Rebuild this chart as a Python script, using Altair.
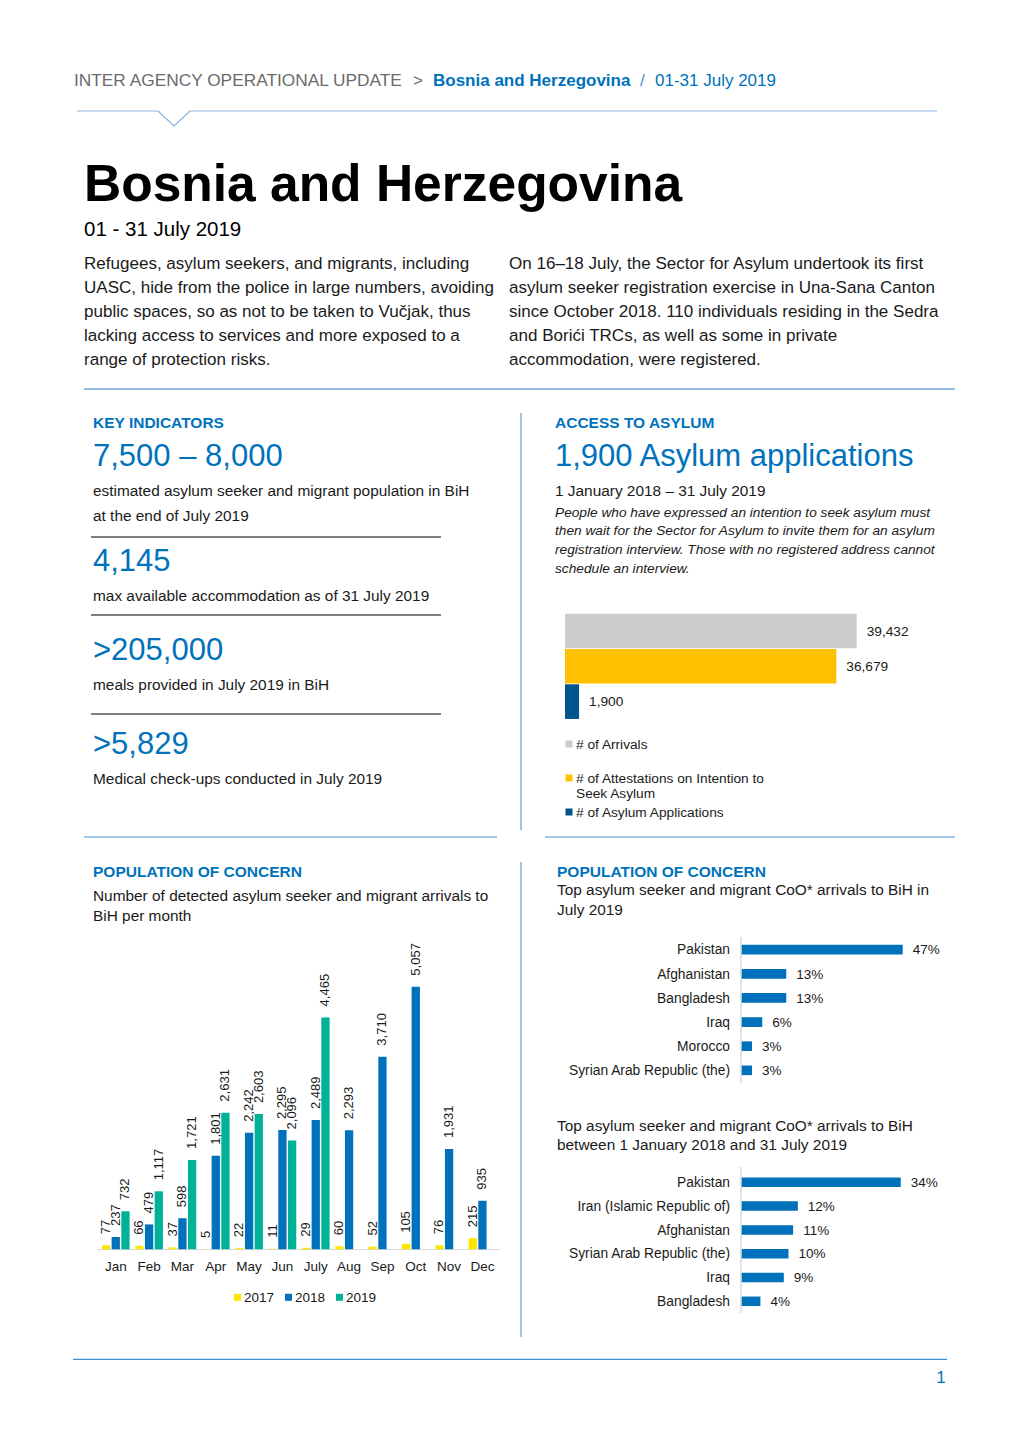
import altair as alt
import pandas as pd

# ---------------- data ----------------
months = ["Jan", "Feb", "Mar", "Apr", "May", "Jun", "July", "Aug", "Sep", "Oct", "Nov", "Dec"]
years = ["2017", "2018", "2019"]
arrivals_2017 = [77, 66, 37, 5, 22, 11, 29, 60, 52, 105, 76, 215]
arrivals_2018 = [237, 479, 598, 1801, 2242, 2295, 2489, 2293, 3710, 5057, 1931, 935]
arrivals_2019 = [732, 1117, 1721, 2631, 2603, 2096, 4465]

asylum_categories = ["# of Arrivals", "# of Attestations on Intention to Seek Asylum", "# of Asylum Applications"]
asylum_values = [39432, 36679, 1900]

coo_july_countries = ["Pakistan", "Afghanistan", "Bangladesh", "Iraq", "Morocco", "Syrian Arab Republic (the)"]
coo_july_share = [47, 13, 13, 6, 3, 3]
coo_total_countries = ["Pakistan", "Iran (Islamic Republic of)", "Afghanistan", "Syrian Arab Republic (the)", "Iraq", "Bangladesh"]
coo_total_share = [34, 12, 11, 10, 9, 4]

# ---------------- styles ----------------
FONT = "Liberation Sans"
BLUE = "#0072BC"
DARK = "#1a1a1a"
GREY_TXT = "#6b6b6b"
YEL = "#FFE600"
GREEN = "#00B398"
ASY_COLORS = ["#CCCCCC", "#FFC000", "#00558C"]
LINE_LIGHT = "#9cc5e8"
LINE_BLUE = "#4a90d0"

ONE = pd.DataFrame({"k": [0]})
L = []
M = 8  # page margin
DY = 0.7  # small vertical nudge for text


def text(x, y, s, size, color=DARK, weight="normal", style="normal", align="left", baseline="middle", font=FONT, dy=DY):
    L.append(
        alt.Chart(ONE)
        .mark_text(align=align, baseline=baseline, fontSize=size, color=color,
                   fontWeight=weight, fontStyle=style, font=font)
        .encode(x=alt.value(x - M), y=alt.value(y - M + dy), text=alt.value(s))
    )


def rule(x1, y1, x2, y2, color, w=1.0):
    L.append(
        alt.Chart(ONE)
        .mark_rule(color=color, strokeWidth=w)
        .encode(x=alt.value(x1 - M), y=alt.value(y1 - M), x2=alt.value(x2 - M), y2=alt.value(y2 - M))
    )


def square(x, y, color, size=49):
    L.append(
        alt.Chart(ONE)
        .mark_square(color=color, size=size, opacity=1)
        .encode(x=alt.value(x - M), y=alt.value(y - M))
    )


HEAD = 15.5   # section headings
SMALL = 15.4  # small body text

# ---------------- header ----------------
text(74, 80, "INTER AGENCY OPERATIONAL UPDATE", 17.3, GREY_TXT)
text(413, 80, ">", 17, GREY_TXT)
text(433, 80, "Bosnia and Herzegovina", 17, BLUE, weight="bold")
text(640, 80, "/", 17, LINE_BLUE)
text(655, 80, "01-31 July 2019", 17, BLUE)
for seg in [(77, 111, 158, 111), (158, 111, 174, 126), (174, 126, 190, 111), (190, 111, 937, 111)]:
    rule(*seg, color="#8db8e2", w=1.2)

text(84, 201, "Bosnia and Herzegovina", 51.5, "#000", weight="bold", baseline="alphabetic", dy=0)
text(84, 229, "01 - 31 July 2019", 20.5, "#000")

left_par = [
    "Refugees, asylum seekers, and migrants, including",
    "UASC, hide from the police in large numbers, avoiding",
    "public spaces, so as not to be taken to Vučjak, thus",
    "lacking access to services and more exposed to a",
    "range of protection risks.",
]
right_par = [
    "On 16–18 July, the Sector for Asylum undertook its first",
    "asylum seeker registration exercise in Una-Sana Canton",
    "since October 2018. 110 individuals residing in the Sedra",
    "and Borići TRCs, as well as some in private",
    "accommodation, were registered.",
]
for i, s in enumerate(left_par):
    text(84, 263 + 24 * i, s, 17.05, DARK)
for i, s in enumerate(right_par):
    text(509, 263 + 24 * i, s, 17.05, DARK)

rule(84, 389, 955, 389, "#2a78c0", 1.2)

# ---------------- key indicators ----------------
text(93, 422, "KEY INDICATORS", HEAD, BLUE, weight="bold")
text(93, 456, "7,500 – 8,000", 31, BLUE)
text(93, 490, "estimated asylum seeker and migrant population in BiH", SMALL, DARK)
text(93, 515, "at the end of July 2019", SMALL, DARK)
rule(91, 537, 441, 537, "#000", 1)
text(93, 561, "4,145", 31, BLUE)
text(93, 595, "max available accommodation as of 31 July 2019", SMALL, DARK)
rule(91, 615, 441, 615, "#000", 1)
text(93, 650, ">205,000", 31, BLUE)
text(93, 684, "meals provided in July 2019 in BiH", SMALL, DARK)
rule(91, 714, 441, 714, "#000", 1)
text(93, 744, ">5,829", 31, BLUE)
text(93, 778, "Medical check-ups conducted in July 2019", SMALL, DARK)

rule(521, 413, 521, 830, LINE_LIGHT, 2)

# ---------------- access to asylum ----------------
text(555, 422, "ACCESS TO ASYLUM", HEAD, BLUE, weight="bold")
text(555, 456, "1,900 Asylum applications", 31, BLUE)
text(555, 490, "1 January 2018 – 31 July 2019", SMALL, DARK)
ital = [
    "People who have expressed an intention to seek asylum must",
    "then wait for the Sector for Asylum to invite them for an asylum",
    "registration interview. Those with no registered address cannot",
    "schedule an interview.",
]
for i, s in enumerate(ital):
    text(555, 512 + 18.7 * i, s, 13.7, DARK, style="italic")

square(569, 744, ASY_COLORS[0])
text(576, 744, "# of Arrivals", 13.7, DARK)
square(569, 778, ASY_COLORS[1])
text(576, 778, "# of Attestations on Intention to", 13.7, DARK)
text(576, 793.5, "Seek Asylum", 13.7, DARK)
square(569, 812, ASY_COLORS[2])
text(576, 812, "# of Asylum Applications", 13.7, DARK)

rule(84, 837, 497, 837, LINE_BLUE, 1.2)
rule(545, 837, 955, 837, LINE_BLUE, 1.2)

# ---------------- population of concern (left) ----------------
text(93, 871, "POPULATION OF CONCERN", HEAD, BLUE, weight="bold")
text(93, 895, "Number of detected asylum seeker and migrant arrivals to", SMALL, DARK)
text(93, 915, "BiH per month", SMALL, DARK)
rule(97, 1249.5, 500, 1249.5, "#d9d9d9", 1.2)

square(237.5, 1297.3, YEL)
text(244, 1297.3, "2017", 13.5, DARK)
square(288.5, 1297.3, BLUE)
text(295, 1297.3, "2018", 13.5, DARK)
square(339.5, 1297.3, GREEN)
text(346, 1297.3, "2019", 13.5, DARK)

rows = []
for yr, vals in zip(years, [arrivals_2017, arrivals_2018, arrivals_2019]):
    for m, v in zip(months, vals):
        rows.append({"month": m, "year": yr, "value": v})
monthly = pd.DataFrame(rows)

x_m = alt.X("month:N", axis=None,
            scale=alt.Scale(domain=months, range=[99.1 - M, 499.1 - M], paddingInner=0.17, paddingOuter=0.085))
xo_m = alt.XOffset("year:N", scale=alt.Scale(domain=years, paddingInner=0.145, paddingOuter=0))
y_m = alt.Y("value:Q", axis=None, scale=alt.Scale(domain=[0, 6000], range=[1249.3 - M, 937.7 - M]))
c_m = alt.Color("year:N", legend=None, scale=alt.Scale(domain=years, range=[YEL, BLUE, GREEN]))

m_bars = alt.Chart(monthly).mark_bar().encode(x=x_m, xOffset=xo_m, y=y_m, color=c_m)
m_labels = (
    alt.Chart(monthly)
    .mark_text(angle=270, align="left", baseline="middle", dx=11, fontSize=13, font=FONT, color=DARK)
    .encode(x=x_m, xOffset=xo_m, y=y_m, text=alt.Text("value:Q", format=","))
)
m_months = (
    alt.Chart(pd.DataFrame({"month": months}))
    .mark_text(baseline="middle", fontSize=13.5, font=FONT, color=DARK)
    .encode(x=x_m, y=alt.value(1266.7 - M + DY), text="month:N")
)
monthly_chart = alt.layer(m_bars, m_labels, m_months)

# ---------------- asylum bars ----------------
asy = pd.DataFrame({"category": asylum_categories, "value": asylum_values})
x_a = alt.X("value:Q", axis=None, scale=alt.Scale(domain=[0, 40000], range=[565 - M, 860.9 - M]))
y_a = alt.Y("category:N", axis=None,
            scale=alt.Scale(domain=asylum_categories, range=[613.3 - M, 719.3 - M], paddingInner=0.02, paddingOuter=0.01))
c_a = alt.Color("category:N", legend=None, scale=alt.Scale(domain=asylum_categories, range=ASY_COLORS))
a_bars = alt.Chart(asy).mark_bar().encode(x=x_a, y=y_a, color=c_a)
a_labels = (
    alt.Chart(asy)
    .mark_text(align="left", baseline="middle", dx=10, dy=DY, fontSize=13.7, font=FONT, color=DARK)
    .encode(x=x_a, y=y_a, text=alt.Text("value:Q", format=","))
)
asylum_chart = alt.layer(a_bars, a_labels)

# ---------------- population of concern (right) ----------------
text(557, 871, "POPULATION OF CONCERN", HEAD, BLUE, weight="bold")
text(557, 889, "Top asylum seeker and migrant CoO* arrivals to BiH in", SMALL, DARK)
text(557, 909, "July 2019", SMALL, DARK)
text(557, 1125, "Top asylum seeker and migrant CoO* arrivals to BiH", SMALL, DARK)
text(557, 1144, "between 1 January 2018 and 31 July 2019", SMALL, DARK)
rule(741, 937, 741, 1083, "#d9d9d9", 1.5)
rule(741, 1167, 741, 1313, "#d9d9d9", 1.5)


def coo_chart(countries, shares, y0, y1, dmax, pxmax):
    df = pd.DataFrame({"country": countries, "share": shares})
    x = alt.X("share:Q", axis=None, scale=alt.Scale(domain=[0, dmax], range=[741.7 - M, 741.7 + pxmax - M]))
    y = alt.Y("country:N", axis=None,
              scale=alt.Scale(domain=countries, range=[y0 - M, y1 - M], paddingInner=0.6, paddingOuter=0.3))
    bars = alt.Chart(df).mark_bar(color=BLUE).encode(x=x, y=y)
    vals = (
        alt.Chart(df)
        .transform_calculate(lbl="datum.share + '%'")
        .mark_text(align="left", baseline="middle", dx=10, dy=DY, fontSize=13.5, font=FONT, color=DARK)
        .encode(x=x, y=y, text="lbl:N")
    )
    names = (
        alt.Chart(df)
        .mark_text(align="right", baseline="middle", dy=DY, fontSize=13.8, font=FONT, color=DARK)
        .encode(x=alt.value(730 - M), y=y, text="country:N")
    )
    return alt.layer(bars, vals, names)


coo1 = coo_chart(coo_july_countries, coo_july_share, 937.6, 1082.4, 50, 171.3)
coo2 = coo_chart(coo_total_countries, coo_total_share, 1170.4, 1313.2, 40, 187.1)

rule(521, 862, 521, 1337, LINE_LIGHT, 2)

# ---------------- footer ----------------
rule(73, 1359.3, 947, 1359.3, "#3d8fd6", 1.2)
text(941, 1377, "1", 17, BLUE, align="center")

chart = (
    alt.layer(*L, monthly_chart, asylum_chart, coo1, coo2)
    .resolve_scale(x="independent", y="independent", color="independent")
    .properties(width=1004, height=1426, padding=0, background="white",
                autosize=alt.AutoSizeParams(type="none"))
    .configure_view(stroke=None)
)

chart.save("out.html", embed_options={"renderer": "svg", "actions": False})
